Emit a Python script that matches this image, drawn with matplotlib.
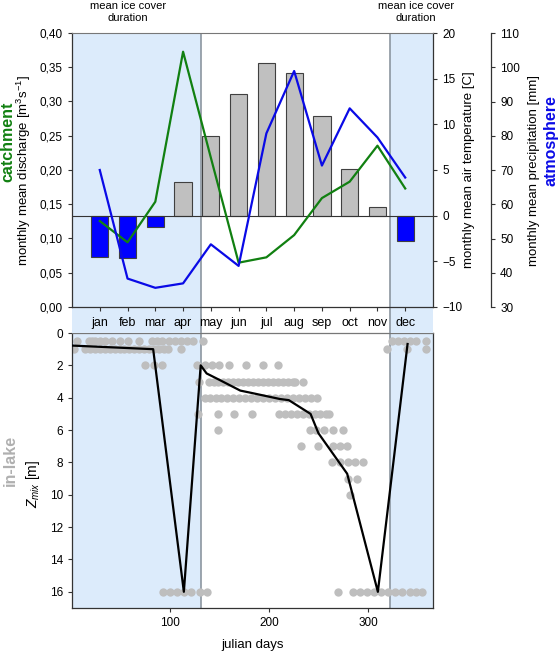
# -*- coding: utf-8 -*-
"""
Catchment / atmosphere / in-lake seasonal chart
"""

import numpy as np
import matplotlib
matplotlib.use("Agg")
import matplotlib.pyplot as plt

plt.rcParams['font.family'] = ['Liberation Sans', 'DejaVu Sans']
plt.rcParams['mathtext.fontset'] = 'custom'
plt.rcParams['mathtext.rm'] = 'Liberation Sans'
plt.rcParams['mathtext.it'] = 'Liberation Sans:italic'

# --- monthly data ---
meses = ["jan", "feb", "mar", "apr", "may", "jun", "jul", "aug", "sep", "oct", "nov", "dec"]
temperatura = [-4.55, -4.6, -1.25, 3.65, 8.7, 13.3, 16.75, 15.6, 10.95, 5.1, 0.9, -2.8]
vazao = [0.1255, 0.0944, 0.1537, 0.3727, 0.218, 0.0647, 0.0725, 0.105, 0.159, 0.183, 0.2355, 0.173]
precipitacao = [70.0, 38.3, 35.6, 36.9, 48.3, 42.0, 80.7, 98.9, 71.3, 88.0, 79.5, 67.8]

# --- ice cover (julian days) ---
gelo_fim = 131
gelo_inicio = 322

# --- Zmix observations (julian day per depth row) ---
dias_05 = [6, 18, 21, 24, 29, 34, 41, 49, 58, 69, 82, 87, 92, 99, 105, 111, 117, 123, 133,
           324, 330, 336, 342, 349, 359]
dias_1 = [3, 14, 19, 24, 29, 34, 39, 44, 49, 54, 59, 64, 69, 74, 79, 84, 89, 94, 98, 111,
          319, 339, 359]
dias_2 = [75, 84, 92, 127, 135, 142, 150, 160, 177, 194, 209]
dias_3 = [129, 139, 144, 149, 154, 159, 164, 169, 174, 179, 184, 189, 194, 199, 204, 209,
          214, 219, 224, 226, 234]
dias_4 = [135, 140, 146, 152, 158, 164, 170, 176, 182, 188, 194, 200, 206, 212, 218, 224,
          230, 236, 242, 249]
dias_5 = [128, 149, 165, 183, 210, 216, 222, 228, 234, 240, 246, 252, 258, 261]
dias_6 = [149, 241, 248, 256, 265, 275]
dias_7 = [232, 250, 265, 272, 279]
dias_8 = [264, 272, 280, 287, 295]
dias_9 = [280, 289]
dias_10 = [282]
dias_16 = [93, 100, 107, 114, 121, 130, 137, 270, 285, 292, 299, 306, 313, 320, 327, 334,
           342, 349, 355]
linhas_prof = [(0.5, dias_05), (1, dias_1), (2, dias_2), (3, dias_3), (4, dias_4),
               (5, dias_5), (6, dias_6), (7, dias_7), (8, dias_8), (9, dias_9),
               (10, dias_10), (16, dias_16)]

# mean Zmix line
media_dias = [2, 83, 114, 131, 137, 150, 171, 182, 211, 220, 242, 250, 279, 310, 340]
media_zmix = [0.78, 1.0, 16, 2.0, 2.5, 2.9, 3.56, 3.7, 4.08, 4.15, 5.0, 6.2, 8.7, 16, 0.68]

# colours
AZUL_GELO = "#dcebfb"
CINZA_LINHA = "#8c96a0"
ESCURO = "#333333"

W, H = 558, 655
fig = plt.figure(figsize=(W / 100, H / 100), dpi=100)

def rect(x0, y0, x1, y1):
    return [x0 / W, 1 - y1 / H, (x1 - x0) / W, (y1 - y0) / H]

DIA0, DIA1 = 1.0, 365.7

def dia_para_mes(d):
    return (d - DIA0) / (DIA1 - DIA0) * 13

# ---------------- top panel ----------------
ax = fig.add_axes(rect(72, 33, 433, 333))            # discharge (host, months on x)
ax_t = ax.twinx()                                    # temperature (bars)
ax_p = ax.twinx()                                    # precipitation
ax_t.set_zorder(1)
ax.set_zorder(2)
ax_p.set_zorder(3)
for a in (ax, ax_t, ax_p):
    a.patch.set_visible(False)

x = np.arange(1, 13)
ax.set_xlim(0, 13)

ax_t.axvspan(0, dia_para_mes(gelo_fim), color=AZUL_GELO, zorder=0, lw=0)
ax_t.axvspan(dia_para_mes(gelo_inicio), 13, color=AZUL_GELO, zorder=0, lw=0)
ax_t.axvline(dia_para_mes(gelo_fim), color=CINZA_LINHA, lw=1.2, zorder=1)
ax_t.axvline(dia_para_mes(gelo_inicio), color=CINZA_LINHA, lw=1.2, zorder=1)

cores_barras = ["#c0c0c0" if t > 0 else "#0000ff" for t in temperatura]
ax_t.bar(x, temperatura, width=0.62, color=cores_barras, edgecolor="#404040", lw=0.8, zorder=2)
ax_t.axhline(0, color=ESCURO, lw=0.8, zorder=3)
ax_t.set_ylim(-12.847, 20)
ax_t.set_yticks([-10, -5, 0, 5, 10, 15, 20])
ax_t.tick_params(axis='y', direction='out', length=3, labelsize=8.5, colors=ESCURO, labelcolor='black')
ax_t.set_ylabel("monthly mean air temperature [C]", fontsize=9.5, rotation=90)
ax_t.yaxis.set_label_coords(1.083, 0.543)

ax.plot(x, vazao, color="#118011", lw=1.6)
ax.set_ylim(-0.03796, 0.40)
ax.set_yticks(np.arange(0, 0.41, 0.05))
ax.set_yticklabels([f"{v:.2f}".replace(".", ",") for v in np.arange(0, 0.41, 0.05)])
ax.tick_params(axis='y', direction='out', length=3, labelsize=8.5, colors=ESCURO, labelcolor='black')
ax.set_ylabel("monthly mean discharge [m$^3$s$^{-1}$]", fontsize=9.5)
ax.yaxis.set_label_coords(-0.108, 0.543)
ax.set_xticks(x)
ax.set_xticklabels(meses)
ax.tick_params(axis='x', direction='out', length=3, pad=4, labelsize=9, colors=ESCURO, labelcolor='black')

ax_p.plot(x, precipitacao, color="#0a0ae6", lw=1.6)
ax_p.set_ylim(22.41, 110)
ax_p.set_yticks([30, 40, 50, 60, 70, 80, 90, 100, 110])
ax_p.spines['right'].set_position(('outward', 41.8))
ax_p.spines['right'].set_bounds(30, 110)
ax_p.tick_params(axis='y', direction='out', length=3, labelsize=8.5, colors=ESCURO, labelcolor='black')
ax_p.set_ylabel("monthly mean precipitation [mm]", fontsize=9.5, rotation=90)
ax_p.yaxis.set_label_coords(1.263, 0.543)

# spines of the top panel
for a in (ax_t, ax, ax_p):
    for s in a.spines.values():
        s.set_visible(False)
ax.spines['left'].set_visible(True)
ax.spines['left'].set_bounds(0, 0.40)
ax.spines['bottom'].set_visible(True)
ax.spines['bottom'].set_position(('data', 0))
ax.spines['top'].set_visible(True)
ax.spines['top'].set_color("#777777")
ax_t.spines['right'].set_visible(True)
ax_t.spines['right'].set_bounds(-10, 20)
ax_p.spines['right'].set_visible(True)
for s in (ax.spines['left'], ax.spines['bottom'], ax_t.spines['right'], ax_p.spines['right']):
    s.set_color(ESCURO)
    s.set_linewidth(0.9)

# ---------------- bottom panel ----------------
ax_b = fig.add_axes(rect(72, 333, 433, 608))
ax_b.axvspan(DIA0, gelo_fim, color=AZUL_GELO, zorder=0, lw=0)
ax_b.axvspan(gelo_inicio, DIA1, color=AZUL_GELO, zorder=0, lw=0)
ax_b.axvline(gelo_fim, color=CINZA_LINHA, lw=1.2, zorder=1)
ax_b.axvline(gelo_inicio, color=CINZA_LINHA, lw=1.2, zorder=1)

for prof, dias in linhas_prof:
    ax_b.scatter(dias, [prof] * len(dias), s=36, color="#bebebe", lw=0, zorder=2)
ax_b.plot(media_dias, media_zmix, color="black", lw=1.6, zorder=3)

ax_b.set_xlim(DIA0, DIA1)
ax_b.set_ylim(17, 0)
ax_b.set_yticks(range(0, 17, 2))
ax_b.set_xticks([100, 200, 300])
ax_b.tick_params(direction='out', length=3, labelsize=8.5, colors=ESCURO, labelcolor='black')
for s in ax_b.spines.values():
    s.set_color(ESCURO)
    s.set_linewidth(0.9)
ax_b.spines['top'].set_color("#777777")
ax_b.set_xlabel("julian days", fontsize=9.5, labelpad=7)
ax_b.set_ylabel("$Z_{mix}$ [m]", fontsize=10)
ax_b.yaxis.set_label_coords(-0.083, 0.45)

# ---------------- annotations ----------------
fig.text(8 / W, 1 - 142 / H, "catchment", color="#118011", fontsize=11.5, fontweight='bold',
         rotation=90, ha='center', va='center')
fig.text(551 / W, 1 - 141 / H, "atmosphere", color="#0a0ae6", fontsize=11.5, fontweight='bold',
         rotation=90, ha='center', va='center')
fig.text(10 / W, 1 - 460 / H, "in-lake", color="#b0b0b0", fontsize=11.5, fontweight='bold',
         rotation=90, ha='center', va='center')
fig.text(128 / W, 1 - 12 / H, "mean ice cover\nduration", fontsize=8, ha='center', va='center',
         linespacing=1.15)
fig.text(416 / W, 1 - 12 / H, "mean ice cover\nduration", fontsize=8, ha='center', va='center',
         linespacing=1.15)

fig.savefig("out.png", dpi=100)
plt.close()
